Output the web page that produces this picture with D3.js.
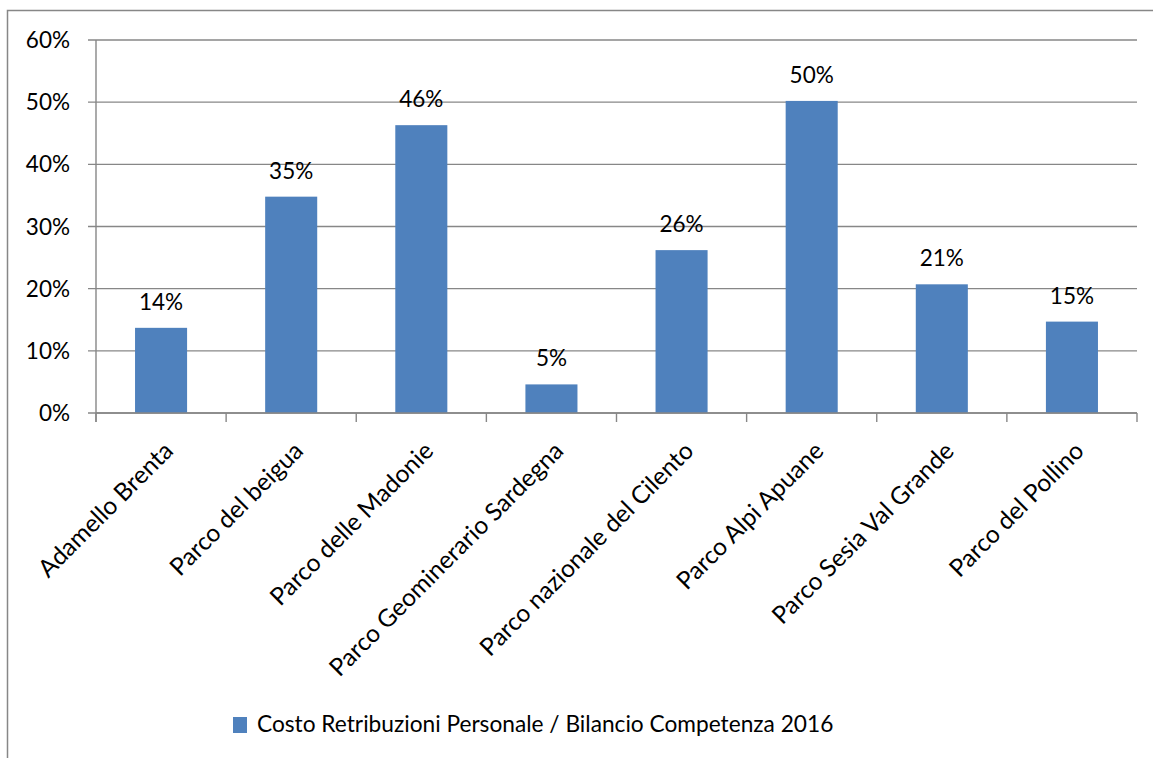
<!DOCTYPE html>
<html>
<head>
<meta charset="utf-8">
<script src="https://cdn.jsdelivr.net/npm/d3@7"></script>
<style>
  body { margin: 0; background: #fff; }
  text { font-family: Lato, "Open Sans", sans-serif; fill: #000; }
</style>
</head>
<body>
<svg id="chart" width="1153" height="758"></svg>
<script>
const categories = ['Adamello Brenta', 'Parco del beigua', 'Parco delle Madonie',
    'Parco Geominerario Sardegna', 'Parco nazionale del Cilento', 'Parco Alpi Apuane',
    'Parco Sesia Val Grande', 'Parco del Pollino'];
const values = [0.137, 0.348, 0.463, 0.046, 0.262, 0.502, 0.207, 0.147];
const yTicks = [0, 0.1, 0.2, 0.3, 0.4, 0.5, 0.6];
const seriesName = 'Costo Retribuzioni Personale / Bilancio Competenza 2016';

const svg = d3.select('#chart');
const gridColor = '#878787';
const barColor = '#4f81bd';

// outer chart border
svg.append('rect')
    .attr('x', 7.5)
    .attr('y', 10.5)
    .attr('width', 1160)
    .attr('height', 770)
    .attr('fill', 'none')
    .attr('stroke', gridColor)
    .attr('stroke-width', 1.5);

const plotLeft = 96, plotRight = 1137, plotTop = 40, plotBottom = 413;

const x = d3.scaleBand()
    .domain(categories)
    .range([plotLeft, plotRight])
    .paddingInner(0.6)
    .paddingOuter(0.3);

const y = d3.scaleLinear()
    .domain([0, 0.6])
    .range([plotBottom, plotTop]);

// gridlines
svg.append('g')
    .selectAll('line')
    .data(yTicks)
    .enter()
    .append('line')
    .attr('x1', plotLeft - 8)
    .attr('x2', plotRight)
    .attr('y1', (d) => y(d))
    .attr('y2', (d) => y(d))
    .attr('stroke', gridColor)
    .attr('stroke-width', 1.4);

// y labels
svg.append('g')
    .selectAll('text')
    .data(yTicks)
    .enter()
    .append('text')
    .attr('x', 70)
    .attr('y', (d) => y(d) + 8)
    .attr('text-anchor', 'end')
    .style('font-size', '22.5px')
    .text(d3.format('.0%'));

// y axis line
svg.append('line')
    .attr('x1', plotLeft).attr('x2', plotLeft)
    .attr('y1', plotTop).attr('y2', plotBottom + 9)
    .attr('stroke', gridColor)
    .attr('stroke-width', 1.4);

// x ticks at band edges
const tickX = d3.range(categories.length + 1).map((i) => plotLeft + i * x.step());
svg.append('g')
    .selectAll('line')
    .data(tickX)
    .enter()
    .append('line')
    .attr('x1', (d) => d).attr('x2', (d) => d)
    .attr('y1', plotBottom).attr('y2', plotBottom + 9)
    .attr('stroke', gridColor)
    .attr('stroke-width', 1.4);

// bars
svg.append('g')
    .selectAll('rect')
    .data(values)
    .enter()
    .append('rect')
    .attr('x', (d, i) => x(categories[i]))
    .attr('y', (d) => y(d))
    .attr('width', x.bandwidth())
    .attr('height', (d) => plotBottom - y(d))
    .attr('fill', barColor);

// redraw baseline over bars
svg.append('line')
    .attr('x1', plotLeft).attr('x2', plotRight)
    .attr('y1', plotBottom).attr('y2', plotBottom)
    .attr('stroke', gridColor)
    .attr('stroke-width', 1.4);

// value labels
svg.append('g')
    .selectAll('text')
    .data(values)
    .enter()
    .append('text')
    .attr('x', (d, i) => x(categories[i]) + x.bandwidth() / 2)
    .attr('y', (d) => y(d) - 18)
    .attr('text-anchor', 'middle')
    .style('font-size', '22.5px')
    .text(d3.format('.0%'));

// category labels
svg.append('g')
    .selectAll('text')
    .data(categories)
    .enter()
    .append('text')
    .attr('transform', (c) => `translate(${x(c) + x.bandwidth() / 2 + 1}, 440) rotate(-45)`)
    .attr('dy', '0.72em')
    .attr('text-anchor', 'end')
    .style('font-size', '24.5px')
    .text((c) => c);

// legend
svg.append('rect')
    .attr('x', 233)
    .attr('y', 717)
    .attr('width', 14)
    .attr('height', 16)
    .attr('fill', barColor);

svg.append('text')
    .attr('x', 257)
    .attr('y', 732)
    .style('font-size', '22.7px')
    .text(seriesName);
</script>
</body>
</html>
